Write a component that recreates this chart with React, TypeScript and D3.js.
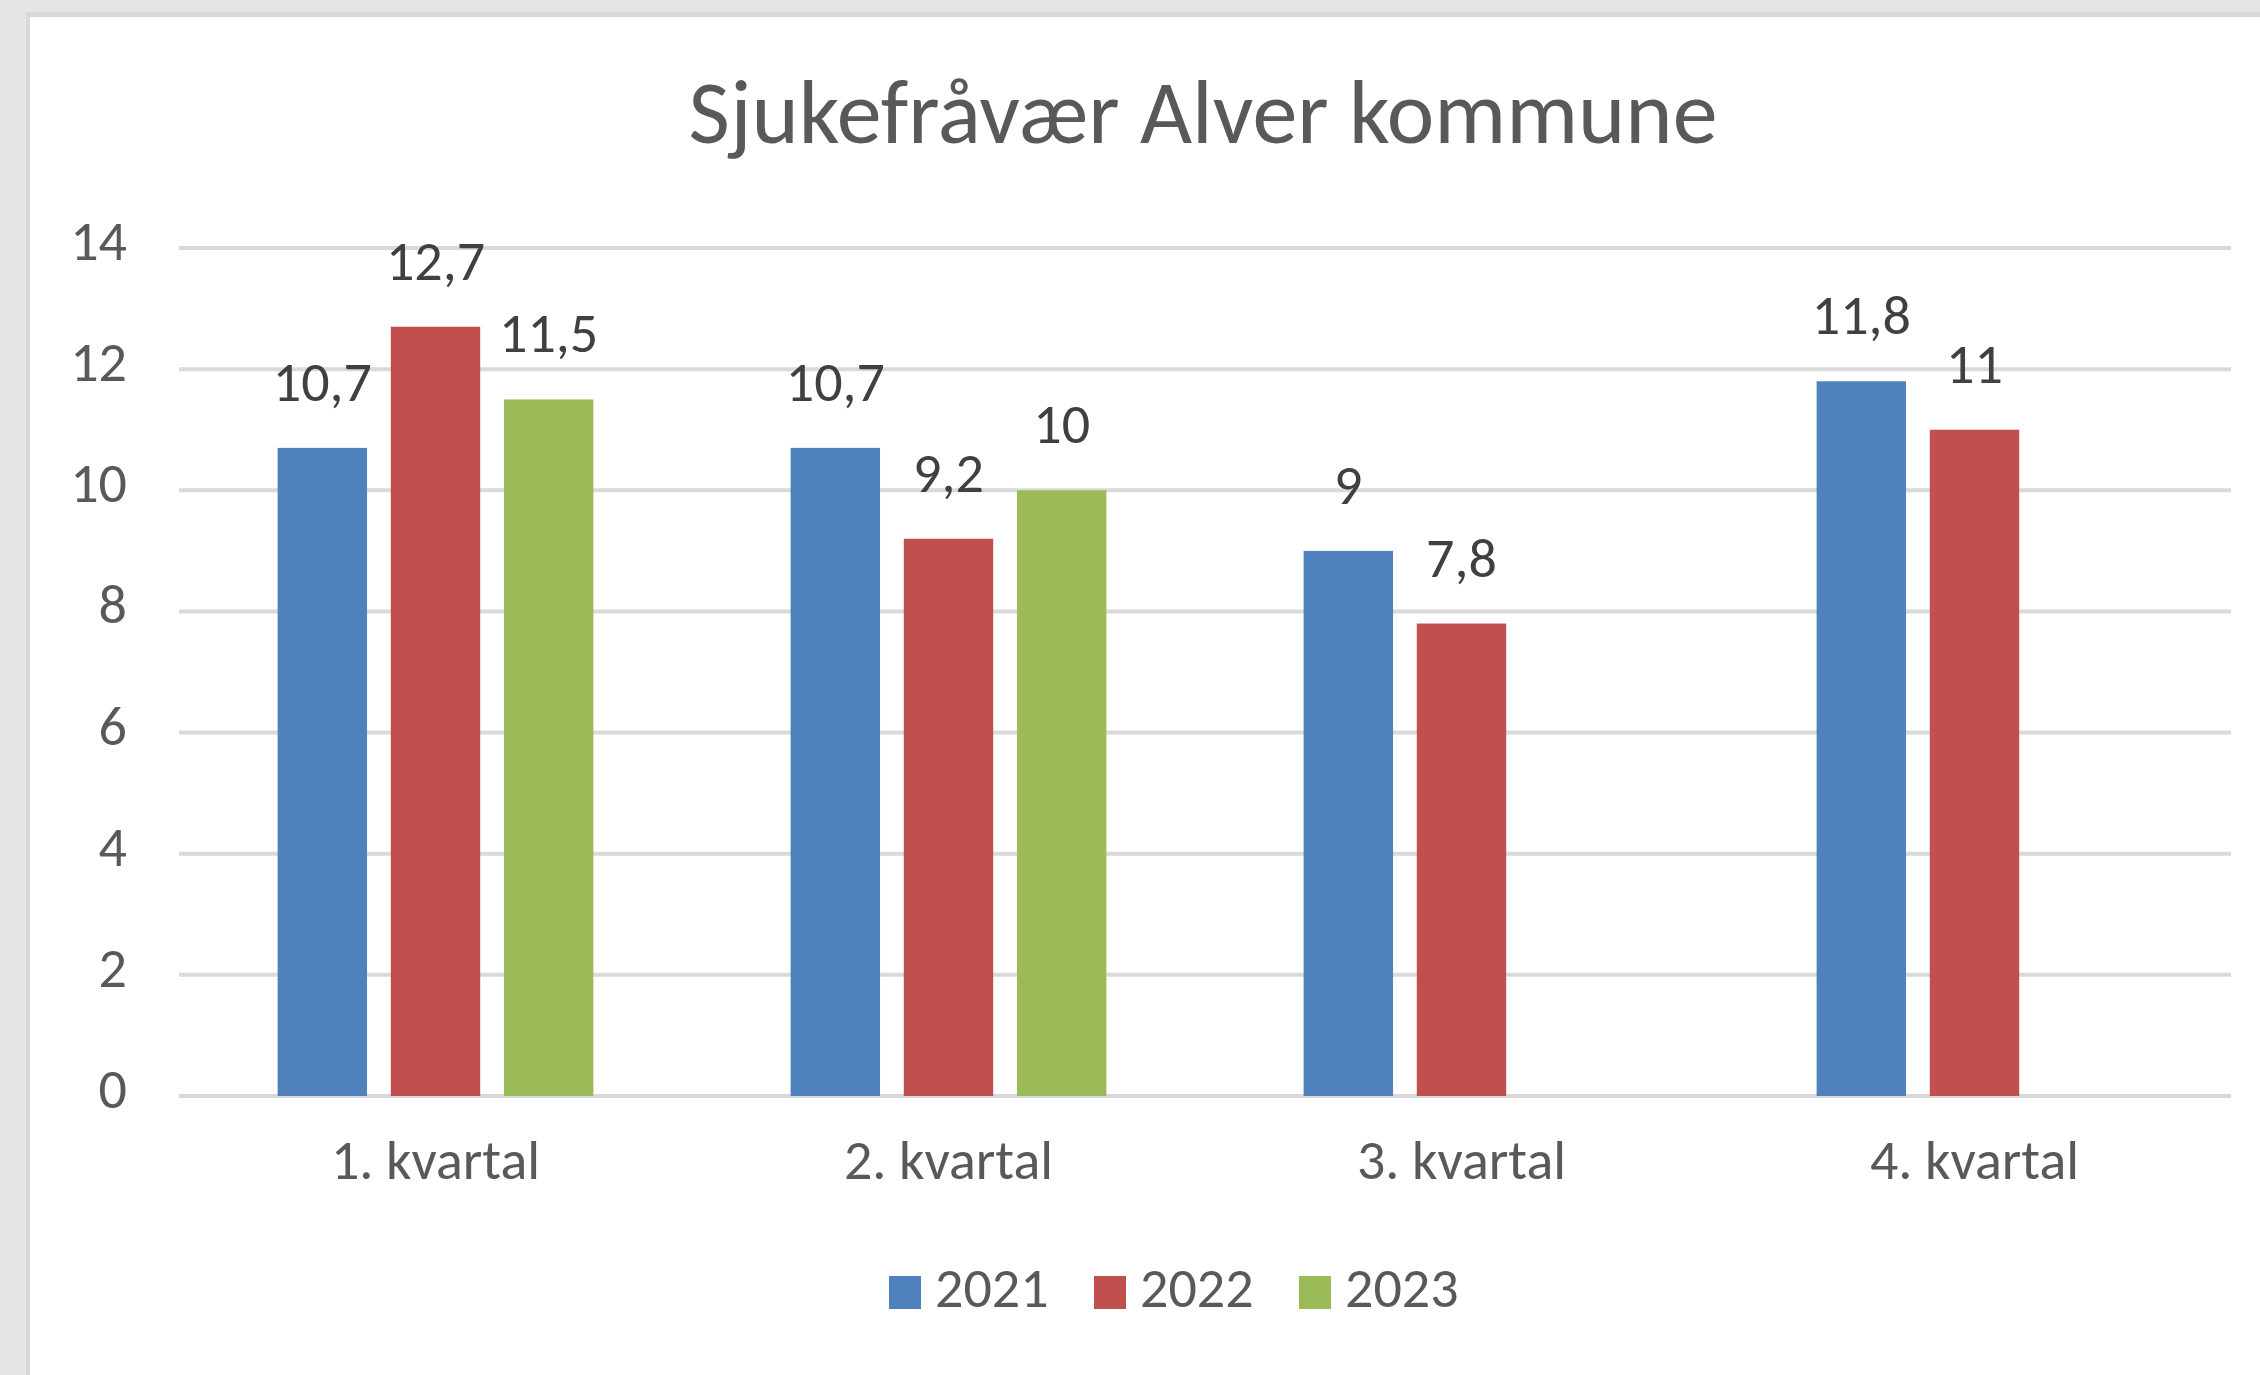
import React, { useRef, useEffect } from "react";
import * as d3 from "d3";

const categories = ["1. kvartal", "2. kvartal", "3. kvartal", "4. kvartal"];
const years = ["2021", "2022", "2023"];
const values2021 = [10.7, 10.7, 9, 11.8];
const values2022 = [12.7, 9.2, 7.8, 11];
const values2023: (number | null)[] = [11.5, 10, null, null];
const yTicks = [0, 2, 4, 6, 8, 10, 12, 14];
const colors = ["#4F81BD", "#C0504D", "#9BBB59"];

const FONT = "Carlito, Calibri, 'Liberation Sans Narrow', 'Open Sans', sans-serif";

const App = () => {
  const ref = useRef<SVGSVGElement | null>(null);

  useEffect(() => {
    const width = 2260;
    const height = 1375;
    const svg = d3.select(ref.current);
    svg.selectAll("*").remove();

    const seriesValues = [values2021, values2022, values2023];

    // background and chart frame
    svg.append("rect").attr("width", width).attr("height", height).attr("fill", "#e6e6e6");
    svg.append("rect").attr("x", 26).attr("y", 12).attr("width", width).attr("height", height).attr("fill", "#d9d9d9");
    svg.append("rect").attr("x", 30).attr("y", 17).attr("width", width).attr("height", height).attr("fill", "#ffffff");

    const x0 = d3.scaleBand().domain(categories).range([179, 2231]).paddingInner(0.3845).paddingOuter(0.19225);
    const x1 = d3.scaleBand().domain(years).range([0, x0.bandwidth()]).paddingInner(0.21).paddingOuter(0);
    const y = d3.scaleLinear().domain([0, 14]).range([1096, 248]);

    // gridlines
    svg
      .append("g")
      .selectAll("line")
      .data(yTicks)
      .enter()
      .append("line")
      .attr("x1", 179)
      .attr("x2", 2231)
      .attr("y1", (d) => y(d))
      .attr("y2", (d) => y(d))
      .attr("stroke", "#d9d9d9")
      .attr("stroke-width", 4);

    // y labels
    svg
      .append("g")
      .selectAll("text")
      .data(yTicks)
      .enter()
      .append("text")
      .attr("x", 127)
      .attr("y", (d) => y(d) + 12)
      .attr("text-anchor", "end")
      .attr("font-family", FONT)
      .attr("font-size", 56)
      .attr("fill", "#595959")
      .text((d) => d);

    // bars
    const groups = svg
      .append("g")
      .selectAll("g")
      .data(categories)
      .enter()
      .append("g")
      .attr("transform", (d) => `translate(${x0(d)},0)`);

    const cells = groups
      .selectAll("g")
      .data((_, i) => years.map((yr, s) => ({ yr, s, v: seriesValues[s][i] })).filter((c) => c.v != null))
      .enter()
      .append("g");

    cells
      .append("rect")
      .attr("x", (d) => x1(d.yr)!)
      .attr("width", x1.bandwidth())
      .attr("y", (d) => y(d.v as number))
      .attr("height", (d) => y(0) - y(d.v as number))
      .attr("fill", (d) => colors[d.s]);

    cells
      .append("text")
      .attr("x", (d) => x1(d.yr)! + x1.bandwidth() / 2)
      .attr("y", (d) => y(d.v as number) - 47)
      .attr("text-anchor", "middle")
      .attr("font-family", FONT)
      .attr("font-size", 56)
      .attr("fill", "#404040")
      .text((d) => String(d.v).replace(".", ","));

    // category labels
    svg
      .append("g")
      .selectAll("text")
      .data(categories)
      .enter()
      .append("text")
      .attr("x", (d) => x0(d)! + x0.bandwidth() / 2)
      .attr("y", 1179)
      .attr("text-anchor", "middle")
      .attr("font-family", FONT)
      .attr("font-size", 56)
      .attr("fill", "#595959")
      .text((d) => d);

    // title
    svg
      .append("text")
      .attr("x", 1203)
      .attr("y", 143)
      .attr("text-anchor", "middle")
      .attr("font-family", FONT)
      .attr("font-size", 90)
      .attr("fill", "#595959")
      .text("Sjukefråvær Alver kommune");

    // legend
    const legend = svg
      .append("g")
      .selectAll("g")
      .data(years)
      .enter()
      .append("g")
      .attr("transform", (_, i) => `translate(${889 + i * 205},1276)`);
    legend.append("rect").attr("width", 32).attr("height", 33).attr("fill", (_, i) => colors[i]);
    legend
      .append("text")
      .attr("x", 46)
      .attr("y", 31)
      .attr("font-family", FONT)
      .attr("font-size", 56)
      .attr("fill", "#595959")
      .text((d) => d);
  }, []);

  return <svg ref={ref} width={2260} height={1375} style={{ position: "absolute", left: 0, top: 0 }} />;
};

export default App;
